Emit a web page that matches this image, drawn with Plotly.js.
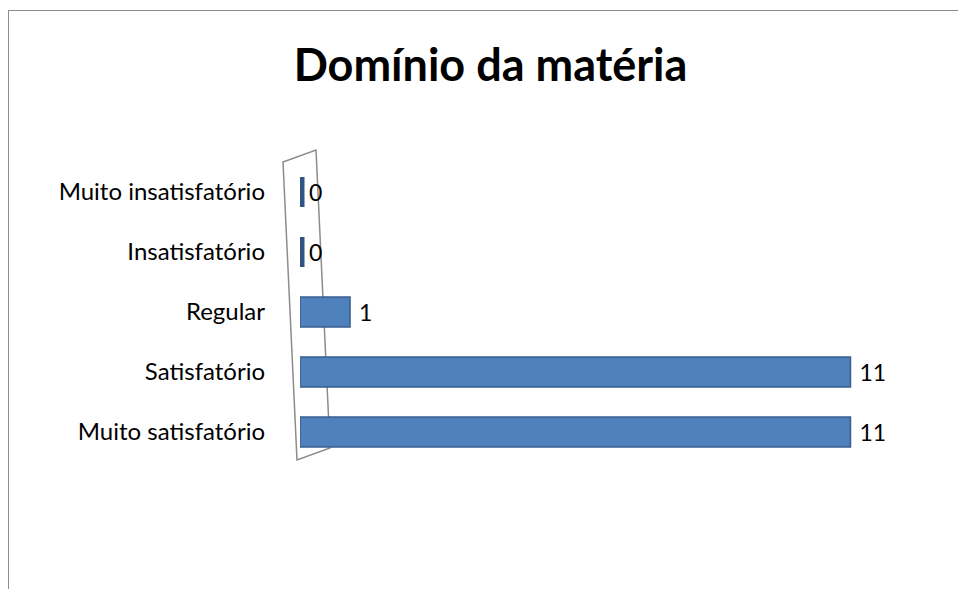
<!DOCTYPE html>
<html><head><meta charset="utf-8">
<script src="https://cdn.plot.ly/plotly-3.0.1.min.js"></script>
<style>
html,body{margin:0;padding:0;background:#fff;}
#wrap{position:relative;width:958px;height:589px;overflow:hidden;}
#frame{position:absolute;left:8px;top:10px;width:1000px;height:700px;border-left:1.5px solid #8c8c8c;border-top:1.5px solid #8c8c8c;pointer-events:none;}
#chart{position:absolute;left:0;top:0;width:958px;height:589px;}
</style></head>
<body><div id="wrap"><div id="chart"></div><div id="frame"></div></div>
<script>
const categories = ["Muito satisfatório", "Satisfatório", "Regular", "Insatisfatório", "Muito insatisfatório"];
const values = [11, 11, 1, 0, 0];
const titleText = "Domínio da matéria";

const L = 300, R = 100, T = 162, B = 127, W = 958, H = 589;
const pw = W - L - R, ph = H - T - B;
function px(x){return (x - L)/pw;}
function py(y){return (H - B - y)/ph;}

const trace = {
  type: "bar",
  orientation: "h",
  y: categories,
  x: values,
  text: values.map(v => "\u00a0" + v),
  textposition: "outside",
  cliponaxis: false,
  textfont: {family: "Lato, 'Open Sans', sans-serif", size: 23, color: "#000"},
  marker: {color: "#4F81BD",
           line: {color: values.map(v => v === 0 ? "#2F5480" : "#385D8A"),
                  width: values.map(v => v === 0 ? 9 : 1.5)}},
  hoverinfo: "x+y"
};

const layout = {
  width: W, height: H,
  margin: {l: L, r: R, t: T, b: B, pad: 0},
  paper_bgcolor: "rgba(0,0,0,0)",
  plot_bgcolor: "rgba(0,0,0,0)",
  title: {text: "<b>" + titleText + "</b>", x: 0.512, xanchor: "center", y: 0.89, yanchor: "middle",
          font: {family: "Lato, 'Open Sans', sans-serif", size: 45, color: "#000"}},
  bargap: 0.5,
  showlegend: false,
  xaxis: {range: [0, 11.15], visible: false, fixedrange: true},
  yaxis: {type: "category", categoryorder: "array", categoryarray: categories,
          showline: false, showgrid: false, zeroline: false, ticks: "",
          ticklabelstandoff: 34,
          tickfont: {family: "Lato, 'Open Sans', sans-serif", size: 24, color: "#000"}},
  shapes: [{
    type: "path", xref: "paper", yref: "paper",
    path: "M " + px(283) + " " + py(162) + " L " + px(316) + " " + py(150) +
          " L " + px(330) + " " + py(448) + " L " + px(297) + " " + py(460) + " Z",
    line: {color: "#8c8c8c", width: 1.5}, fillcolor: "rgba(0,0,0,0)", layer: "below"
  }]
};

Plotly.newPlot("chart", [trace], layout, {displayModeBar: false, staticPlot: true});
</script></body></html>
